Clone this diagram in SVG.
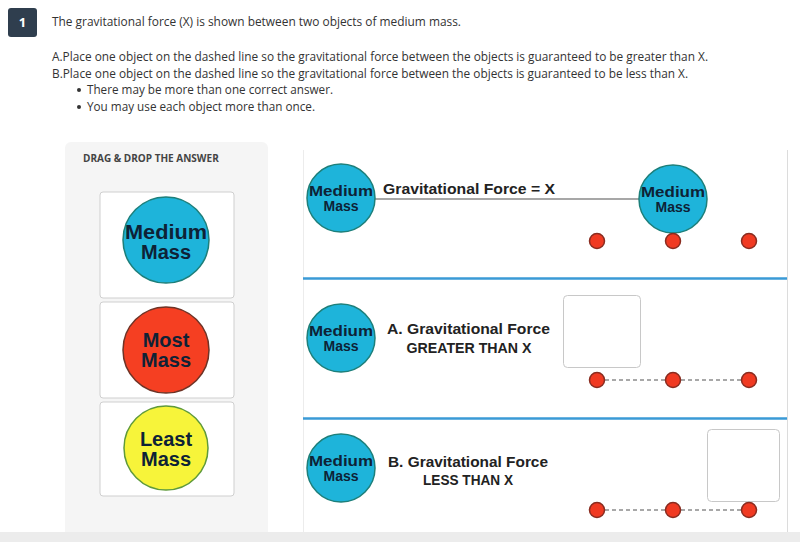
<svg xmlns="http://www.w3.org/2000/svg" width="800" height="542" viewBox="0 0 800 542">
<style>
.q{font-family:"Open Sans","Liberation Sans",sans-serif;font-size:12px;fill:#333}
.ball{font-family:"Liberation Sans",Arial,sans-serif;font-weight:bold;text-anchor:middle;fill:#0e2236}
.lbl{font-family:"Liberation Sans",Arial,sans-serif;font-weight:bold;font-size:15px;fill:#222}
.med{fill:#1eb4da;stroke:#1d7f7a;stroke-width:1.5}
.dot{fill:#f03a22;stroke:#8a2c20;stroke-width:1.5}
.card{fill:#fff;stroke:#cfcfcf;stroke-width:1}
.drop{fill:#fff;stroke:#c8c8c8;stroke-width:1}
.blue{stroke:#3a9ad6;stroke-width:2.5}
.dash{stroke:#a8a8a8;stroke-width:2;stroke-dasharray:4 3}
</style>
<rect width="800" height="542" fill="#fff"/>
<g id="header">
<rect x="8" y="8" width="29" height="29" rx="3" fill="#2f3e4e"/>
<text x="22.5" y="27" font-family="'Open Sans','Liberation Sans',sans-serif" font-size="13" font-weight="bold" fill="#fff" text-anchor="middle">1</text>
<text class="q" x="52" y="26" textLength="409" lengthAdjust="spacingAndGlyphs">The gravitational force (X) is shown between two objects of medium mass.</text>
<text class="q" x="52" y="61" textLength="656" lengthAdjust="spacingAndGlyphs">A.Place one object on the dashed line so the gravitational force between the objects is guaranteed to be greater than X.</text>
<text class="q" x="52" y="78" textLength="636" lengthAdjust="spacingAndGlyphs">B.Place one object on the dashed line so the gravitational force between the objects is guaranteed to be less than X.</text>
<circle cx="79" cy="90" r="2" fill="#333"/>
<text class="q" x="87" y="94" textLength="246" lengthAdjust="spacingAndGlyphs">There may be more than one correct answer.</text>
<circle cx="79" cy="107" r="2" fill="#333"/>
<text class="q" x="87" y="111" textLength="228" lengthAdjust="spacingAndGlyphs">You may use each object more than once.</text>
</g>
<g id="answer-panel">
<rect x="65" y="142" width="203" height="400" rx="6" fill="#f5f5f5"/>
<text x="83" y="162" font-family="'Open Sans','Liberation Sans',sans-serif" font-size="10" font-weight="bold" fill="#444">DRAG &amp; DROP THE ANSWER</text>
</g>
<g id="card-medium">
<rect class="card" x="100" y="192" width="134" height="106" rx="3"/>
<circle class="med" cx="166" cy="240" r="43"/>
<text class="ball" x="166" y="239" font-size="20" textLength="82" lengthAdjust="spacingAndGlyphs">Medium</text>
<text class="ball" x="166" y="259" font-size="20">Mass</text>
</g>
<g id="card-most">
<rect class="card" x="100" y="302" width="134" height="96" rx="3"/>
<circle cx="166" cy="350" r="43" fill="#f53f22" stroke="#6e3326" stroke-width="1.5"/>
<text class="ball" x="166" y="347" font-size="20">Most</text>
<text class="ball" x="166" y="367" font-size="20">Mass</text>
</g>
<g id="card-least">
<rect class="card" x="100" y="402" width="134" height="94" rx="3"/>
<circle cx="166" cy="448" r="42" fill="#f7f43a" stroke="#5f9a3a" stroke-width="1.5"/>
<text class="ball" x="166" y="446" font-size="20">Least</text>
<text class="ball" x="166" y="466" font-size="20">Mass</text>
</g>
<g id="panel-frame">
<line x1="303.5" y1="150" x2="303.5" y2="532" stroke="#ececec" stroke-width="1"/>
<line x1="787.5" y1="150" x2="787.5" y2="532" stroke="#dcdcdc" stroke-width="1"/>
<rect x="0" y="532" width="800" height="10" fill="#ececec"/>
</g>
<g id="connectors">
<line x1="375" y1="199" x2="639" y2="199" stroke="#8a8a8a" stroke-width="1.5"/>
<line class="blue" x1="303" y1="278.5" x2="787" y2="278.5"/>
<line class="blue" x1="303" y1="418.5" x2="787" y2="418.5"/>
<line class="dash" x1="605" y1="380" x2="666" y2="380"/>
<line class="dash" x1="681" y1="380" x2="742" y2="380"/>
<line class="dash" x1="605" y1="510" x2="666" y2="510"/>
<line class="dash" x1="681" y1="510" x2="742" y2="510"/>
</g>
<g id="row1-left">
<circle class="med" cx="341" cy="198" r="34"/>
<text class="ball" x="341" y="196" font-size="14" textLength="64" lengthAdjust="spacingAndGlyphs">Medium</text>
<text class="ball" x="341" y="211" font-size="14">Mass</text>
</g>
<g id="row1-label"><text class="lbl" x="383" y="194" textLength="172" lengthAdjust="spacingAndGlyphs">Gravitational Force = X</text></g>
<g id="row1-right">
<circle class="med" cx="673" cy="199" r="34"/>
<text class="ball" x="673" y="197" font-size="14" textLength="64" lengthAdjust="spacingAndGlyphs">Medium</text>
<text class="ball" x="673" y="212" font-size="14">Mass</text>
</g>
<g id="row1-dots">
<circle class="dot" cx="597" cy="241" r="7.5"/>
<circle class="dot" cx="673" cy="241" r="7.5"/>
<circle class="dot" cx="749" cy="241" r="7.5"/>
</g>
<g id="rowA-circle">
<circle class="med" cx="341" cy="338" r="34"/>
<text class="ball" x="341" y="336" font-size="14" textLength="64" lengthAdjust="spacingAndGlyphs">Medium</text>
<text class="ball" x="341" y="351" font-size="14">Mass</text>
</g>
<g id="rowA-label">
<text class="lbl" x="387" y="334" textLength="163" lengthAdjust="spacingAndGlyphs">A. Gravitational Force</text>
<text class="lbl" x="469" y="353" text-anchor="middle" textLength="125" lengthAdjust="spacingAndGlyphs">GREATER THAN X</text>
</g>
<g id="rowA-box"><rect class="drop" x="563.5" y="295.5" width="77" height="72" rx="4"/></g>
<g id="rowA-dots">
<circle class="dot" cx="597" cy="380" r="7.5"/>
<circle class="dot" cx="673" cy="380" r="7.5"/>
<circle class="dot" cx="749" cy="380" r="7.5"/>
</g>
<g id="rowB-circle">
<circle class="med" cx="341" cy="468" r="34"/>
<text class="ball" x="341" y="466" font-size="14" textLength="64" lengthAdjust="spacingAndGlyphs">Medium</text>
<text class="ball" x="341" y="481" font-size="14">Mass</text>
</g>
<g id="rowB-label">
<text class="lbl" x="388" y="467" textLength="160" lengthAdjust="spacingAndGlyphs">B. Gravitational Force</text>
<text class="lbl" x="468" y="485" text-anchor="middle" textLength="90" lengthAdjust="spacingAndGlyphs">LESS THAN X</text>
</g>
<g id="rowB-box"><rect class="drop" x="707.5" y="429.5" width="72" height="72" rx="4"/></g>
<g id="rowB-dots">
<circle class="dot" cx="597" cy="510" r="7.5"/>
<circle class="dot" cx="673" cy="510" r="7.5"/>
<circle class="dot" cx="749" cy="510" r="7.5"/>
</g>
</svg>
